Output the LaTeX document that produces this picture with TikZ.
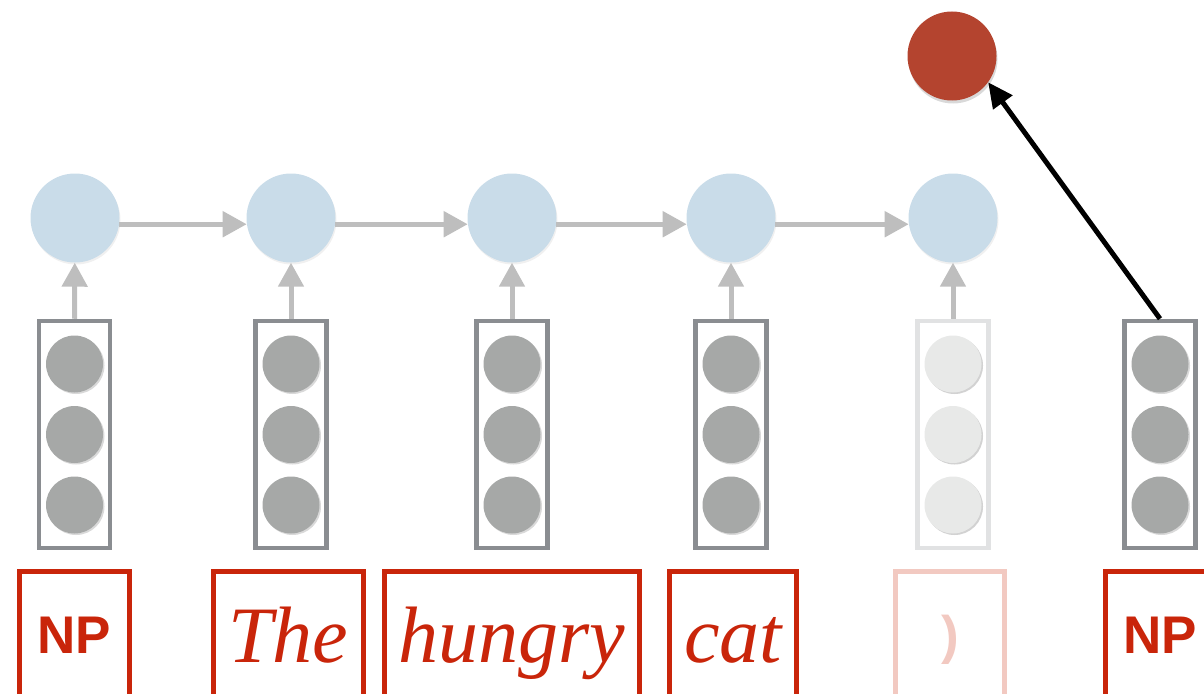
\documentclass[tikz,border=0pt]{standalone}
\usepackage{fontspec}
\usetikzlibrary{arrows.meta,shadows}
\newfontfamily\tagfont{Liberation Sans}
\newfontfamily\wordfont{Liberation Serif}
\definecolor{hidblue}{RGB}{201,220,233}
\definecolor{outred}{RGB}{180,68,47}
\definecolor{wordred}{RGB}{201,37,10}
\definecolor{fadered}{RGB}{242,201,193}
\definecolor{dotgray}{RGB}{166,168,167}
\definecolor{fadedot}{RGB}{232,233,232}
\definecolor{boxgray}{RGB}{138,141,145}
\definecolor{fadebox}{RGB}{225,226,227}
\definecolor{arrgray}{RGB}{190,190,190}
\begin{document}
\begin{tikzpicture}[x=1pt,y=-1pt,
  hid/.style={circle,fill=hidblue,minimum size=89pt,inner sep=0pt,
    drop shadow={opacity=0.12,shadow xshift=1pt,shadow yshift=-2pt}},
  outnode/.style={circle,fill=outred,minimum size=89pt,inner sep=0pt,
    drop shadow={opacity=0.3,shadow xshift=1pt,shadow yshift=-3pt}},
  embbox/.style={draw=boxgray,line width=4.5pt,minimum width=71pt,minimum height=227pt,inner sep=0pt},
  dot/.style={circle,fill=dotgray,minimum size=57pt,inner sep=0pt,
    drop shadow={opacity=0.3,shadow xshift=1.5pt,shadow yshift=-1.5pt}},
  wordbox/.style={draw=wordred,text=wordred,line width=5pt,minimum height=148.5pt,inner sep=0pt},
  tagtxt/.style={font=\tagfont\bfseries\fontsize{53}{53}\selectfont,text height=40pt,text depth=25.5pt},
  wordtxt/.style={font=\wordfont\itshape\fontsize{80}{80}\selectfont,text height=50pt,text depth=17.5pt},
  link/.style={draw=arrgray,line width=5pt,-{Triangle[length=24pt,width=25pt]}},
  outlink/.style={draw=black,line width=5pt,-{Triangle[length=25pt,width=23pt]}}]
\useasboundingbox (0,0) rectangle (1204,693);
\clip (0,0) rectangle (1204,693);

% recurrent states
\node[hid] (h1) at (75,218) {};
\node[hid] (h2) at (291,218) {};
\node[hid] (h3) at (512,218) {};
\node[hid] (h4) at (731,218) {};
\node[hid] (h5) at (953,218) {};
\node[outnode] (out) at (952,56) {};

% embedding vectors
\foreach \n/\x in {1/74.5,2/291,3/512,4/731,6/1160}{
  \node[embbox] (e\n) at (\x,434.5) {};
  \foreach \k/\y in {a/364,b/434.5,c/505}
    \node[dot] (e\n\k) at (\x,\y) {};
}
\node[embbox,draw=fadebox] (e5) at (953,434.5) {};
\foreach \k/\y in {a/364,b/434.5,c/505}
  \node[dot,fill=fadedot,drop shadow={opacity=0.08,shadow xshift=1.5pt,shadow yshift=-1.5pt}] (e5\k) at (953,\y) {};

% input tokens
\node[wordbox,tagtxt,minimum width=110pt] (w1) at (74.5,645.75) {NP};
\node[wordbox,wordtxt,minimum width=150pt] (w2) at (288.5,645.75) {The};
\node[wordbox,wordtxt,minimum width=255pt] (w3) at (512,645.75) {hungry};
\node[wordbox,wordtxt,minimum width=127pt] (w4) at (733,645.75) {cat};
\node[wordbox,tagtxt,draw=fadered,text=fadered,minimum width=109pt] (w5) at (950,645.75) {)};
\node[wordbox,tagtxt,minimum width=110pt] (w6) at (1160.5,645.75) {NP};

% connections
\foreach \a/\b in {1/2,2/3,3/4,4/5}
  \draw[link] (h\a.-8) -- (h\b.188);
\foreach \n in {1,...,5}
  \draw[link] (e\n.north) -- (h\n);
\draw[outlink] (e6.north) -- (out.-36);
\end{tikzpicture}
\end{document}
